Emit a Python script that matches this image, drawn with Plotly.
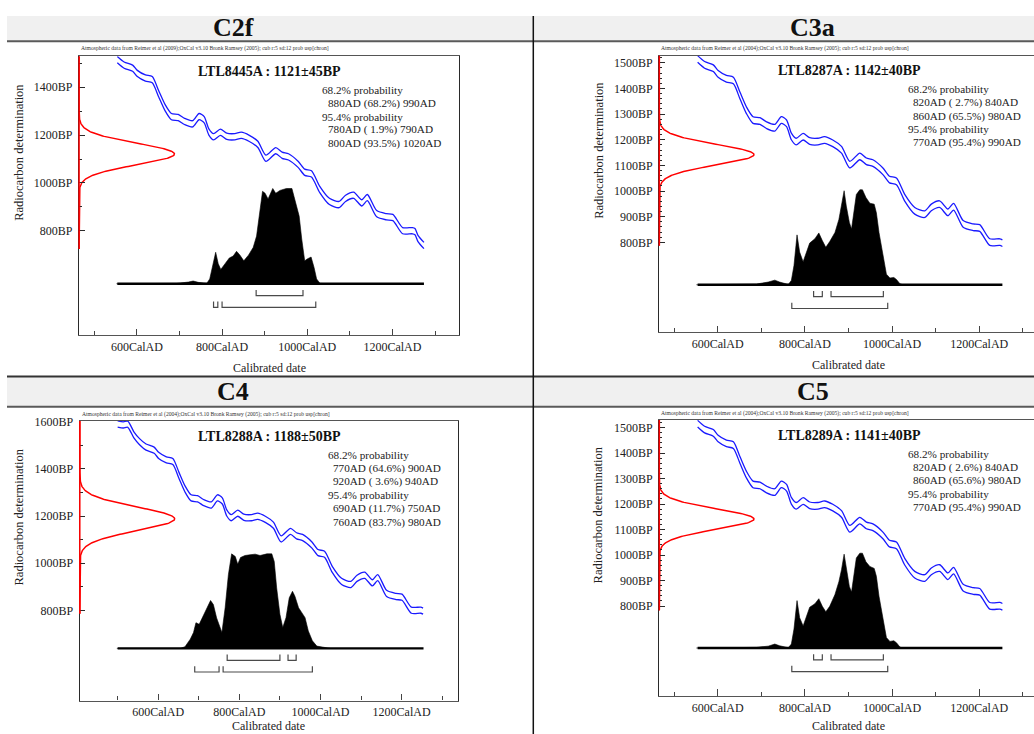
import numpy as np
import plotly.graph_objects as go

W, H = 1034, 734
SERIF = "Liberation Serif"
AXIS_COLOR = "#2a2a2a"

# ---------------- data ----------------
PANEL_TITLES = ["C2f", "C3a", "C4", "C5"]
LAB_CODES = ["LTL8445A", "LTL8287A", "LTL8288A", "LTL8289A"]
C14_AGE = [1121, 1142, 1188, 1141]
C14_ERR = [45, 40, 50, 40]
SOURCE_NOTES = [
    "Atmospheric data from Reimer et al (2009);OxCal v3.10 Bronk Ramsey (2005); cub r:5 sd:12 prob usp[chron]",
    "Atmospheric data from Reimer et al (2004);OxCal v3.10 Bronk Ramsey (2005); cub r:5 sd:12 prob usp[chron]",
    "Atmospheric data from Reimer et al (2004);OxCal v3.10 Bronk Ramsey (2005); cub r:5 sd:12 prob usp[chron]",
    "Atmospheric data from Reimer et al (2004);OxCal v3.10 Bronk Ramsey (2005); cub r:5 sd:12 prob usp[chron]",
]
PROB_LINES = [
    ["68.2% probability", "880AD (68.2%) 990AD", "95.4% probability",
     "780AD ( 1.9%) 790AD", "800AD (93.5%) 1020AD"],
    ["68.2% probability", "820AD ( 2.7%) 840AD", "860AD (65.5%) 980AD",
     "95.4% probability", "770AD (95.4%) 990AD"],
    ["68.2% probability", "770AD (64.6%) 900AD", "920AD ( 3.6%) 940AD",
     "95.4% probability", "690AD (11.7%) 750AD", "760AD (83.7%) 980AD"],
    ["68.2% probability", "820AD ( 2.6%) 840AD", "860AD (65.6%) 980AD",
     "95.4% probability", "770AD (95.4%) 990AD"],
]
RANGES_68 = [[(880, 990)], [(820, 840), (860, 980)], [(770, 900), (920, 940)], [(820, 840), (860, 980)]]
RANGES_95 = [[(780, 790), (800, 1020)], [(770, 990)], [(690, 750), (760, 980)], [(770, 990)]]

# calibration curve (mean BP), +/- CAL_SIGMA
CAL_YEARS = [500, 514, 525, 540, 554, 570, 590, 601, 620, 636, 651, 666, 681, 697, 712,
             731, 746, 758, 769, 780, 796, 811, 830, 845, 864, 884, 903, 926, 941, 956,
             979, 994, 1010, 1029, 1052, 1075, 1090, 1109, 1128, 1141, 1163, 1186, 1201,
             1224, 1247, 1253, 1260, 1274]
CAL_BP = [1590, 1586, 1589, 1544, 1515, 1492, 1479, 1457, 1438, 1431, 1373, 1315, 1277, 1273, 1257,
          1247, 1277, 1264, 1213, 1193, 1212, 1195, 1193, 1199, 1186, 1161, 1103, 1135, 1116, 1109,
          1077, 1045, 1038, 974, 923, 910, 936, 949, 917, 939, 872, 859, 856,
          801, 801, 797, 768, 739]
CAL_SIGMA = 13
CURVE_START = [554, 554, 500, 554]
CURVE_END = [1274, 1253, 1254, 1253]
RED_LOW = [725, 787, 786, 783]

DIST_C2F_YEAR = [552, 693, 721, 732, 744, 764, 771, 778, 785, 791, 797, 807, 817, 826, 834,
                 842, 851, 862, 873, 881, 887, 895, 901, 908, 919, 926, 936, 951, 964, 971,
                 981, 987, 994, 1000, 1009, 1016, 1022, 1030, 1053]
DIST_C2F_PROB = [0, 0.003, 0.017, 0.028, 0.014, 0.003, 0.05, 0.19, 0.33, 0.21, 0.15, 0.21, 0.27, 0.29, 0.34,
                 0.30, 0.24, 0.30, 0.38, 0.50, 0.71, 0.97, 0.95, 0.89, 1.0, 0.95, 0.98, 1.0, 1.0, 0.89,
                 0.71, 0.47, 0.24, 0.26, 0.28, 0.17, 0.05, 0.003, 0]
DIST_C3A_YEAR = [551, 689, 716, 731, 742, 762, 769, 775, 782, 788, 796, 804, 811, 823, 832,
                 840, 848, 857, 869, 878, 884, 890, 895, 902, 907, 912, 918, 926, 932, 940,
                 949, 959, 964, 970, 978, 987, 995, 1004, 1010, 1018, 1025]
DIST_C3A_PROB = [0, 0.007, 0.028, 0.048, 0.028, 0.003, 0.045, 0.2, 0.52, 0.34, 0.24, 0.355, 0.434, 0.48, 0.54,
                 0.46, 0.39, 0.45, 0.545, 0.68, 0.82, 0.98, 0.82, 0.65, 0.58, 0.75, 0.94, 0.99, 0.99, 0.91,
                 0.85, 0.84, 0.75, 0.545, 0.34, 0.11, 0.07, 0.076, 0.055, 0.01, 0]
DIST_C4_YEAR = [498, 654, 666, 679, 687, 693, 701, 710, 720, 729, 736, 744, 757, 765, 773,
                781, 790, 796, 803, 814, 826, 839, 851, 868, 880, 886, 892, 900, 907, 915,
                923, 931, 937, 946, 954, 962, 970, 980, 991, 1003, 1016, 1024]
DIST_C4_PROB = [0, 0, 0.017, 0.097, 0.167, 0.27, 0.253, 0.33, 0.427, 0.503, 0.46, 0.32, 0.167, 0.427, 0.774,
                0.993, 0.965, 0.885, 0.955, 0.976, 0.983, 0.99, 0.976, 0.993, 0.993, 0.913, 0.635, 0.358, 0.219, 0.323,
                0.531, 0.60, 0.549, 0.427, 0.375, 0.323, 0.184, 0.08, 0.024, 0.014, 0.003, 0]
DIST_C5_YEAR = [551, 689, 716, 731, 742, 762, 769, 775, 782, 788, 796, 804, 811, 823, 832,
                840, 848, 857, 869, 878, 884, 890, 895, 902, 907, 912, 918, 926, 932, 940,
                949, 959, 964, 970, 978, 987, 995, 1004, 1010, 1018, 1025]
DIST_C5_PROB = [0, 0.007, 0.02, 0.042, 0.024, 0.003, 0.042, 0.2, 0.50, 0.32, 0.233, 0.35, 0.43, 0.467, 0.52,
                0.44, 0.383, 0.44, 0.565, 0.70, 0.826, 0.99, 0.826, 0.65, 0.59, 0.74, 0.95, 1.0, 1.0, 0.91,
                0.86, 0.84, 0.756, 0.547, 0.338, 0.11, 0.07, 0.077, 0.056, 0.01, 0]
DIST_YEARS = [DIST_C2F_YEAR, DIST_C3A_YEAR, DIST_C4_YEAR, DIST_C5_YEAR]
DIST_PROBS = [DIST_C2F_PROB, DIST_C3A_PROB, DIST_C4_PROB, DIST_C5_PROB]

X_TICKS = [600, 800, 1000, 1200]
X_TICK_LABELS = ["600CalAD", "800CalAD", "1000CalAD", "1200CalAD"]
X_MINOR_TICKS = [500, 700, 900, 1100, 1300]
Y_TICKS = [[800, 1000, 1200, 1400],
           [800, 900, 1000, 1100, 1200, 1300, 1400, 1500],
           [800, 1000, 1200, 1400, 1600],
           [800, 900, 1000, 1100, 1200, 1300, 1400, 1500]]
Y_TICK_LABELS = [[f"{v}BP" for v in t] for t in Y_TICKS]
Y_MINOR_STEP = [100, 20, 100, 20]
Y_MINOR_TICKS = [[v for v in range(800, 1621, Y_MINOR_STEP[i]) if v not in Y_TICKS[i]] for i in range(4)]

# ---------------- layout geometry (pixels) ----------------
FRAME = [(79.1, 50.7, 458.7, 331.9), (659.3, 50.0, 1034, 329.0),
         (79.8, 418.1, 458.0, 700.3), (659.3, 417.3, 1034, 695.7)]
X_RANGE = [(464.3, 1355.6), (466.1, 1325.5), (406.7, 1339), (466.1, 1325.5)]
Y_RANGE = [(364.8, 1528.8), (449.3, 1528.2), (418, 1604), (447.2, 1530)]
DIST_RANGE = [(-0.541, 2.389), (-0.496, 2.389), (-0.548, 2.392), (-0.506, 2.406)]
LIK_RANGE = [(0, 3.98), (0, 3.957), (0, 3.985), (0, 3.957)]
TITLE_POS = [(233.2, 22), (812.7, 21.7), (233.2, 388.7), (812.7, 389)]
SOURCE_POS = [(79.1, 43.3), (659.3, 42.7), (79.8, 411.6), (659.3, 411)]
LABEL_POS = [(269.7, 65.9), (849, 65), (269.7, 433.6), (849, 432.7)]
PROB_POS = [(320.4, 84.5), (905.7, 84), (325.5, 452.9), (905.7, 451.7)]
YTITLE_POS = [(19.3, 147.7), (598.3, 145.7), (19.3, 515.4), (598.3, 513.3)]
XTITLE_POS = [(269.4, 364.5), (848.3, 361.5), (268.7, 726), (848.3, 725.5)]
LINE_STEP = 13.5
LEVEL_68, LEVEL_95, BRACKET_TICK = -0.125, -0.248, 0.06


def px(x):
    return x / W


def py(y):
    return 1 - y / H


fig = go.Figure()
layout = dict(width=W, height=H, margin=dict(l=0, r=0, t=0, b=0),
              paper_bgcolor="white", plot_bgcolor="rgba(0,0,0,0)",
              showlegend=False, font=dict(family=SERIF, color="#111"))
shapes, annotations = [], []

cal_years = np.array(CAL_YEARS, dtype=float)
cal_bp = np.array(CAL_BP, dtype=float)

for i in range(4):
    n = i + 1
    xl, yt, xr, yb = FRAME[i]
    xkey = "xaxis" if n == 1 else f"xaxis{n}"
    ykey = "yaxis" if n == 1 else f"yaxis{n}"
    xr_ = "x" if n == 1 else f"x{n}"
    yr_ = "y" if n == 1 else f"y{n}"
    xo, yo = f"x{n + 4}", f"y{n + 4}"
    left_panel = i in (0, 2)

    layout[xkey] = dict(
        domain=[px(xl), px(xr)], anchor=yr_, range=list(X_RANGE[i]),
        showline=True, mirror=True, linecolor="#555555", linewidth=1.3,
        showgrid=False, zeroline=False,
        tickmode="array", tickvals=X_TICKS, ticktext=X_TICK_LABELS,
        ticks="inside", ticklen=6.5, tickwidth=1.2, tickcolor="#444444",
        minor=dict(ticks="inside", ticklen=4, tickwidth=1.2, tickcolor="#444444",
                   tickmode="array", tickvals=X_MINOR_TICKS, showgrid=False),
        tickfont=dict(family=SERIF, size=12, color="#222"),
        ticklabelstandoff=0)
    layout[ykey] = dict(
        domain=[py(yb), py(yt)], anchor=xr_, range=list(Y_RANGE[i]),
        showline=True, mirror=left_panel, linecolor=AXIS_COLOR, linewidth=1.3,
        showgrid=False, zeroline=False,
        tickmode="array", tickvals=Y_TICKS[i], ticktext=Y_TICK_LABELS[i],
        ticks="inside", ticklen=5.5, tickwidth=1.2, tickcolor=AXIS_COLOR,
        minor=dict(ticks="inside", ticklen=3, tickwidth=1, tickcolor=AXIS_COLOR,
                   tickmode="array", tickvals=Y_MINOR_TICKS[i], showgrid=False),
        tickfont=dict(family=SERIF, size=12, color="#222"),
        ticklabelstandoff=3)
    layout[f"xaxis{n + 4}"] = dict(overlaying=xr_, anchor=yr_, range=list(LIK_RANGE[i]),
                                   visible=False, showgrid=False, zeroline=False)
    layout[f"yaxis{n + 4}"] = dict(overlaying=yr_, anchor=xr_, range=list(DIST_RANGE[i]),
                                   visible=False, showgrid=False, zeroline=False)

    # posterior distribution
    fig.add_trace(go.Scatter(x=DIST_YEARS[i], y=DIST_PROBS[i], xaxis=xr_, yaxis=yo,
                             mode="lines", fill="tozeroy", fillcolor="black",
                             line=dict(color="black", width=0.6), hoverinfo="skip"))
    # baseline
    fig.add_trace(go.Scatter(x=[CURVE_START[i], CURVE_END[i]], y=[0, 0], xaxis=xr_, yaxis=yo,
                             mode="lines", line=dict(color="black", width=2.4), hoverinfo="skip"))
    # range brackets
    bx, by = [], []
    for level, ranges in ((LEVEL_68, RANGES_68[i]), (LEVEL_95, RANGES_95[i])):
        for lo, hi in ranges:
            bx += [lo, lo, hi, hi, None]
            by += [level + BRACKET_TICK, level, level, level + BRACKET_TICK, None]
    fig.add_trace(go.Scatter(x=bx, y=by, xaxis=xr_, yaxis=yo, mode="lines",
                             line=dict(color="#4a4a4a", width=1.2), hoverinfo="skip"))
    # calibration curve +/- 1 sigma
    sel = (cal_years >= CURVE_START[i]) & (cal_years <= CURVE_END[i])
    for sgn in (1, -1):
        fig.add_trace(go.Scatter(x=cal_years[sel], y=cal_bp[sel] + sgn * CAL_SIGMA,
                                 xaxis=xr_, yaxis=yr_, mode="lines",
                                 line=dict(color="#1a1aff", width=1.3, shape="spline", smoothing=0.7),
                                 hoverinfo="skip"))
    # radiocarbon measurement likelihood
    bp = np.linspace(RED_LOW[i], Y_RANGE[i][1] + 30, 500)
    lik = np.exp(-0.5 * ((bp - C14_AGE[i]) / C14_ERR[i]) ** 2)
    fig.add_trace(go.Scatter(x=lik, y=bp, xaxis=xo, yaxis=yr_, mode="lines",
                             line=dict(color="#ff0000", width=1.5), hoverinfo="skip"))
    shapes.append(dict(type="line", xref=f"{xr_} domain", yref=yr_, x0=0, x1=0,
                       y0=RED_LOW[i], y1=Y_RANGE[i][1], line=dict(color="#ff0000", width=1.5),
                       layer="above"))

    # texts
    tx, ty = TITLE_POS[i]
    annotations.append(dict(x=px(tx), y=py(ty), xref="paper", yref="paper", showarrow=False,
                            text=f"<b>{PANEL_TITLES[i]}</b>", xanchor="center", yanchor="middle",
                            font=dict(family=SERIF, size=26, color="#111")))
    sx, sy = SOURCE_POS[i]
    annotations.append(dict(x=px(sx), y=py(sy), xref="paper", yref="paper", showarrow=False,
                            text=SOURCE_NOTES[i], xanchor="left", yanchor="middle",
                            font=dict(family=SERIF, size=5.6, color="#333")))
    lx, ly = LABEL_POS[i]
    annotations.append(dict(x=px(lx), y=py(ly), xref="paper", yref="paper", showarrow=False,
                            text=f"<b>{LAB_CODES[i]} : {C14_AGE[i]}±{C14_ERR[i]}BP</b>",
                            xanchor="center", yanchor="middle",
                            font=dict(family=SERIF, size=14, color="#111")))
    ppx, ppy = PROB_POS[i]
    for k, line in enumerate(PROB_LINES[i]):
        indent = 0 if "probability" in line else 5.5
        annotations.append(dict(x=px(ppx + indent), y=py(ppy + k * LINE_STEP), xref="paper", yref="paper",
                                showarrow=False, text=line.replace(" ", "\u00a0"),
                                xanchor="left", yanchor="middle",
                                font=dict(family=SERIF, size=11.2, color="#222")))
    yx, yy = YTITLE_POS[i]
    annotations.append(dict(x=px(yx), y=py(yy), xref="paper", yref="paper", showarrow=False,
                            text="Radiocarbon determination", textangle=-90,
                            xanchor="center", yanchor="middle",
                            font=dict(family=SERIF, size=12.5, color="#222")))
    cx, cy = XTITLE_POS[i]
    annotations.append(dict(x=px(cx), y=py(cy), xref="paper", yref="paper", showarrow=False,
                            text="Calibrated date", xanchor="center", yanchor="middle",
                            font=dict(family=SERIF, size=12, color="#222")))

# title bands and separators
for (x0, x1) in ((7, 533.3), (533.3, W)):
    for (y0, y1) in ((10, 35.5), (373.5, 404)):
        shapes.append(dict(type="rect", xref="paper", yref="paper", x0=px(x0), x1=px(x1),
                           y0=py(y1), y1=py(y0), fillcolor="#f0f0f0", line=dict(width=0),
                           layer="below"))
for yline, col in ((35.5, "#5a5a5a"), (373.5, "#333333"), (404, "#5a5a5a")):
    shapes.append(dict(type="line", xref="paper", yref="paper", x0=px(7), x1=1,
                       y0=py(yline), y1=py(yline), line=dict(color=col, width=2)))
shapes.append(dict(type="line", xref="paper", yref="paper", x0=px(533.3), x1=px(533.3),
                   y0=py(10), y1=0, line=dict(color="#111", width=1.5)))

layout["shapes"] = shapes
layout["annotations"] = annotations
fig.update_layout(**layout)

fig.write_html("out.html", config={"displayModeBar": False},
               post_script="document.body.style.margin='0';")
